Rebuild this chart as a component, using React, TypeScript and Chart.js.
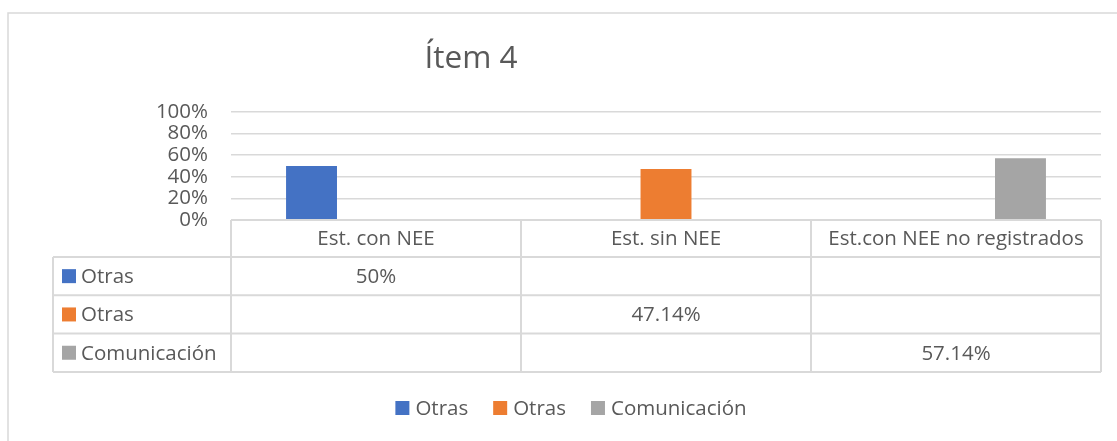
import React, { useEffect, useRef } from "react";
import { Chart, registerables } from "chart.js";

Chart.register(...registerables);

// ---- data ----
const categories = ["Est. con NEE", "Est. sin NEE", "Est.con NEE no registrados"];
const seriesNames = ["Otras", "Otras", "Comunicación"];
const seriesColors = ["#4472C4", "#ED7D31", "#A5A5A5"];
const otrasConNee: (number | null)[] = [0.5, null, null];
const otrasSinNee: (number | null)[] = [null, 0.4714, null];
const comunicacion: (number | null)[] = [null, null, 0.5714];
const seriesValues = [otrasConNee, otrasSinNee, comunicacion];
const yTickValues = [0, 0.2, 0.4, 0.6, 0.8, 1];
const titleText = "Ítem 4";

const FONT = "'Open Sans', 'Noto Sans', sans-serif";
const TEXT = "#595959";
const LINE = "#d9d9d9";

const fmtPct = (v: number) => `${Number((v * 100).toFixed(2))}%`;

const decorPlugin = {
  id: "excelDecor",
  afterDraw(chart: any) {
    const ctx = chart.ctx as CanvasRenderingContext2D;
    const area = chart.chartArea;
    const xs = chart.scales.x;
    const n = categories.length;
    const catW = (area.right - area.left) / n;
    const colLeft = (i: number) => xs.getPixelForValue(i) - catW / 2;

    ctx.save();
    // outer chart border (top & left visible)
    ctx.strokeStyle = LINE;
    ctx.lineWidth = 1.5;
    ctx.beginPath();
    ctx.moveTo(8, 441);
    ctx.lineTo(8, 13);
    ctx.lineTo(1117, 13);
    ctx.stroke();

    // title
    ctx.fillStyle = TEXT;
    ctx.font = `31.5px ${FONT}`;
    ctx.textAlign = "center";
    ctx.textBaseline = "alphabetic";
    ctx.fillText(titleText, 471, 68);

    // data table
    const headTop = area.bottom;
    const headH = 37;
    const rowH = 38.3;
    const tableLeft = 53;
    const rowsTop = headTop + headH;
    const tableBottom = rowsTop + rowH * seriesNames.length;

    ctx.strokeStyle = LINE;
    ctx.lineWidth = 2;
    ctx.beginPath();
    ctx.moveTo(area.left, headTop);
    ctx.lineTo(area.right, headTop);
    for (let r = 0; r <= seriesNames.length; r++) {
      const y = rowsTop + r * rowH;
      ctx.moveTo(tableLeft, y);
      ctx.lineTo(area.right, y);
    }
    ctx.moveTo(tableLeft, rowsTop);
    ctx.lineTo(tableLeft, tableBottom);
    for (let i = 0; i <= n; i++) {
      const x = i < n ? colLeft(i) : colLeft(n - 1) + catW;
      ctx.moveTo(x, headTop);
      ctx.lineTo(x, tableBottom);
    }
    ctx.stroke();

    ctx.font = `20.5px ${FONT}`;
    ctx.fillStyle = TEXT;
    ctx.textBaseline = "middle";
    ctx.textAlign = "center";
    categories.forEach((c, i) => {
      ctx.fillText(c, xs.getPixelForValue(i), headTop + headH / 2 + 1);
    });
    seriesNames.forEach((name, r) => {
      const cy = rowsTop + r * rowH + rowH / 2 + 1;
      ctx.fillStyle = seriesColors[r];
      ctx.fillRect(62, cy - 8, 14, 14);
      ctx.fillStyle = TEXT;
      ctx.textAlign = "left";
      ctx.fillText(name, 81, cy);
      ctx.textAlign = "center";
      seriesValues[r].forEach((v, i) => {
        if (v !== null && v !== undefined) ctx.fillText(fmtPct(v), xs.getPixelForValue(i), cy);
      });
    });

    // legend
    const sq = 14;
    const gapSq = 6;
    const gapItem = 25;
    const widths = seriesNames.map((s) => sq + gapSq + ctx.measureText(s).width);
    const total = widths.reduce((a, b) => a + b, 0) + gapItem * (widths.length - 1);
    let lx = 571 - total / 2;
    const ly = 408;
    ctx.textAlign = "left";
    seriesNames.forEach((s, i) => {
      ctx.fillStyle = seriesColors[i];
      ctx.fillRect(lx, ly - 7, sq, sq);
      ctx.fillStyle = TEXT;
      ctx.fillText(s, lx + sq + gapSq, ly + 1);
      lx += widths[i] + gapItem;
    });
    ctx.restore();
  },
};

export default function App() {
  const ref = useRef<HTMLCanvasElement>(null);
  useEffect(() => {
    if (!ref.current) return;
    const chart = new Chart(ref.current, {
      type: "bar",
      data: {
        labels: categories,
        datasets: seriesNames.map((name, i) => ({
          label: name,
          data: seriesValues[i],
          backgroundColor: seriesColors[i],
          borderWidth: 0,
          categoryPercentage: 0.667,
          barPercentage: 0.79,
        })),
      },
      options: {
        responsive: false,
        animation: false,
        devicePixelRatio: 1,
        layout: { padding: { top: 112, left: 0, right: 16, bottom: 221 } },
        plugins: {
          legend: { display: false },
          title: { display: false },
          tooltip: { enabled: false },
        },
        scales: {
          x: { display: false },
          y: {
            min: 0,
            max: 1,
            afterFit: (s: any) => {
              s.width = 231;
            },
            afterBuildTicks: (s: any) => {
              s.ticks = yTickValues.map((v) => ({ value: v }));
            },
            border: { display: false },
            grid: { color: LINE, lineWidth: 1.5, drawTicks: false },
            ticks: {
              autoSkip: false,
              padding: 23,
              color: TEXT,
              font: { family: FONT, size: 20.5, lineHeight: 1 },
              callback: (v: any) => `${Math.round(Number(v) * 100)}%`,
            },
          },
        },
      },
      plugins: [decorPlugin],
    });
    return () => chart.destroy();
  }, []);
  return (
    <div style={{ position: "absolute", left: 0, top: 0, width: 1117, height: 441, background: "#fff" }}>
      <canvas ref={ref} width={1117} height={441} style={{ display: "block" }} />
    </div>
  );
}
